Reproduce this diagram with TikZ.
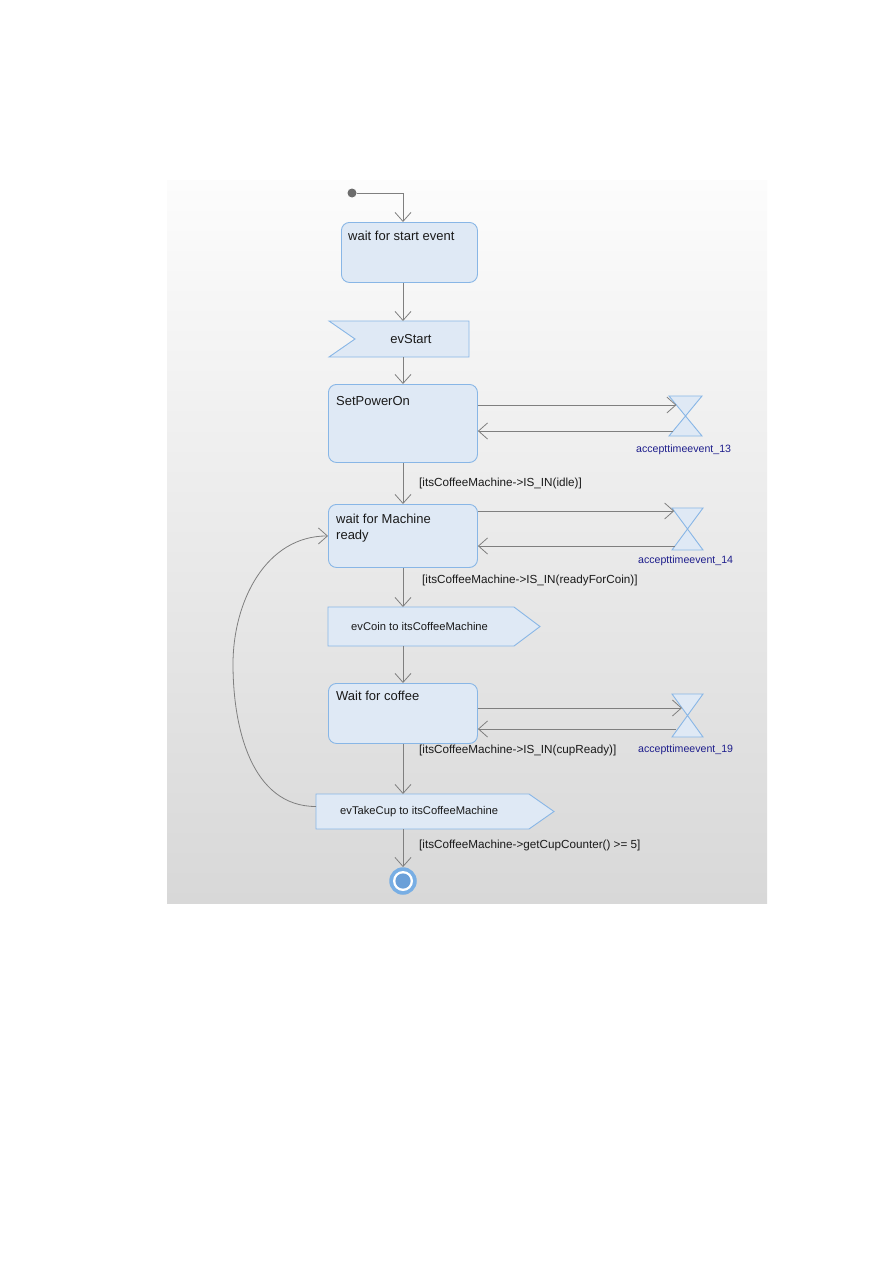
\documentclass[tikz,border=0pt]{standalone}
\usepackage{fontspec}
\setmainfont{Liberation Sans}
\usetikzlibrary{arrows.meta,calc}
\definecolor{boxfill}{HTML}{DFE9F5}
\definecolor{boxdraw}{HTML}{88B6E6}
\definecolor{lineg}{HTML}{7F7F7F}
\definecolor{navy}{HTML}{1E1E8C}
\definecolor{finalout}{HTML}{78AEE4}
\definecolor{finalin}{HTML}{6A9FD8}
\definecolor{bgtop}{HTML}{FCFCFC}
\definecolor{bgbot}{HTML}{D8D8D8}
\definecolor{txt}{HTML}{1A1A1A}
\begin{document}
\begin{tikzpicture}[x=1pt,y=-1pt,
  stbox/.style={draw=boxdraw, fill=boxfill, rounded corners=8pt, line width=0.9pt, anchor=north west, inner sep=0pt},
  holder/.style={anchor=north west, inner sep=0pt, outer sep=0pt},
  shapeline/.style={draw=boxdraw, fill=boxfill, line width=0.9pt, line join=miter},
  conn/.style={draw=lineg, line width=0.8pt, -{Straight Barb[length=9pt,width=16pt,line width=0.8pt]}},
  ttl/.style={anchor=west, inner sep=0pt, text=txt, font=\fontsize{13}{15}\selectfont},
  sig/.style={anchor=west, inner sep=0pt, text=txt, font=\fontsize{11.2}{13}\selectfont},
  guard/.style={anchor=west, inner sep=0pt, text=txt, font=\fontsize{11.7}{14}\selectfont},
  tlabel/.style={anchor=west, inner sep=0pt, text=navy, font=\fontsize{10.6}{12}\selectfont}
]
\useasboundingbox (0,0) rectangle (893,1263);
\fill[white] (0,0) rectangle (893,1263);
\shade[top color=bgtop, bottom color=bgbot] (167,180) rectangle (767,903);

\coordinate (colx) at (403,0);

% initial node
\node[circle, fill=gray!85!black, minimum size=9pt, inner sep=0pt] (init) at (352,193) {};

% box 1
\node[stbox, minimum width=136pt, minimum height=60pt] (b1) at (341,222) {};
\node[ttl] (b1t) at (348,236) {wait for start event};

% evStart (accept event)
\node[holder, minimum width=140pt, minimum height=36pt] (evs) at (329,321) {};
\draw[shapeline] (evs.north west) -- (evs.north east) -- (evs.south east) -- (evs.south west) -- ($(evs.west)+(26,0)$) -- cycle;
\node[anchor=center, inner sep=0pt, text=txt, font=\fontsize{13}{15}\selectfont] (evst) at (411,339) {evStart};

% SetPowerOn
\node[stbox, minimum width=149pt, minimum height=78pt] (spo) at (328,384) {};
\node[ttl] (spot) at (336,401) {SetPowerOn};

% box 2
\node[stbox, minimum width=149pt, minimum height=63pt] (b2) at (328,504) {};
\node[ttl] (b2t1) at (336,519) {wait for Machine};
\node[ttl] (b2t2) at (336,536) {ready};

% evCoin (send signal)
\node[holder, minimum width=212pt, minimum height=39pt] (evc) at (328,607) {};
\draw[shapeline] (evc.north west) -- ($(evc.north east)+(-26,0)$) -- (evc.east) -- ($(evc.south east)+(-26,0)$) -- (evc.south west) -- cycle;
\node[sig] (evct) at (351,626.5) {evCoin to itsCoffeeMachine};

% box 3
\node[stbox, minimum width=149pt, minimum height=60pt] (b3) at (328,683) {};
\node[ttl] (b3t) at (336,696) {Wait for coffee};

% evTakeCup (send signal)
\node[holder, minimum width=238pt, minimum height=35pt] (evt) at (316,794) {};
\draw[shapeline] (evt.north west) -- ($(evt.north east)+(-25,0)$) -- (evt.east) -- ($(evt.south east)+(-25,0)$) -- (evt.south west) -- cycle;
\node[sig] (evtt) at (340,811.5) {evTakeCup to itsCoffeeMachine};

% final node
\node[circle, fill=finalout, minimum size=27.5pt, inner sep=0pt] (final) at (403,881) {};
\fill[white] (final.center) circle (10);
\fill[finalin] (final.center) circle (7.6);

% hourglasses
\node[holder, minimum width=33pt, minimum height=40pt] (hg13) at (669,396) {};
\node[holder, minimum width=31pt, minimum height=42pt] (hg14) at (672,508) {};
\node[holder, minimum width=31pt, minimum height=43pt] (hg19) at (672,694) {};
\foreach \h in {hg13,hg14,hg19}{
  \draw[shapeline] (\h.north west) -- (\h.north east) -- (\h.south west) -- (\h.south east) -- cycle;
}
\node[tlabel] (l13) at (636,450) {accepttimeevent\_13};
\node[tlabel] (l14) at (638,561) {accepttimeevent\_14};
\node[tlabel] (l19) at (638,750) {accepttimeevent\_19};

% guards
\node[guard] (g1) at (419,483) {[itsCoffeeMachine->IS\_IN(idle)]};
\node[guard] (g2) at (422,580) {[itsCoffeeMachine->IS\_IN(readyForCoin)]};
\node[guard] (g3) at (419,750) {[itsCoffeeMachine->IS\_IN(cupReady)]};
\node[guard] (g4) at (419,845) {[itsCoffeeMachine->getCupCounter() >= 5]};

% main flow
\draw[conn] (init) -| (b1.north -| colx);
\draw[conn] (b1.south -| colx) -- (evs.north -| colx);
\draw[conn] (evs.south -| colx) -- (spo.north -| colx);
\draw[conn] (spo.south -| colx) -- (b2.north -| colx);
\draw[conn] (b2.south -| colx) -- (evc.north -| colx);
\draw[conn] (evc.south -| colx) -- (b3.north -| colx);
\draw[conn] (b3.south -| colx) -- (evt.north -| colx);
\draw[conn] (evt.south -| colx) -- (final.north);

% time event loops
\draw[conn] ($(spo.north east)+(0,21)$) -- ($(hg13.north west)+(7.4,9)$);
\draw[conn] ($(hg13.south west)+(4,-5)$) -- ($(spo.north east)+(0,47)$);
\draw[conn] ($(b2.north east)+(0,7)$) -- ($(hg14.north west)+(2.2,3)$);
\draw[conn] ($(hg14.south west)+(2.6,-4)$) -- ($(b2.north east)+(0,42)$);
\draw[conn] ($(b3.north east)+(0,25)$) -- ($(hg19.north west)+(10,14)$);
\draw[conn] ($(hg19.south west)+(3.5,-8)$) -- ($(b3.north east)+(0,46)$);

% loop back
\coordinate (loopl) at (233,664);
\draw[conn] ($(evt.west)+(0,-5)$) to[out=180,in=-90] (loopl) to[out=90,in=180] (b2.west);
\end{tikzpicture}
\end{document}
